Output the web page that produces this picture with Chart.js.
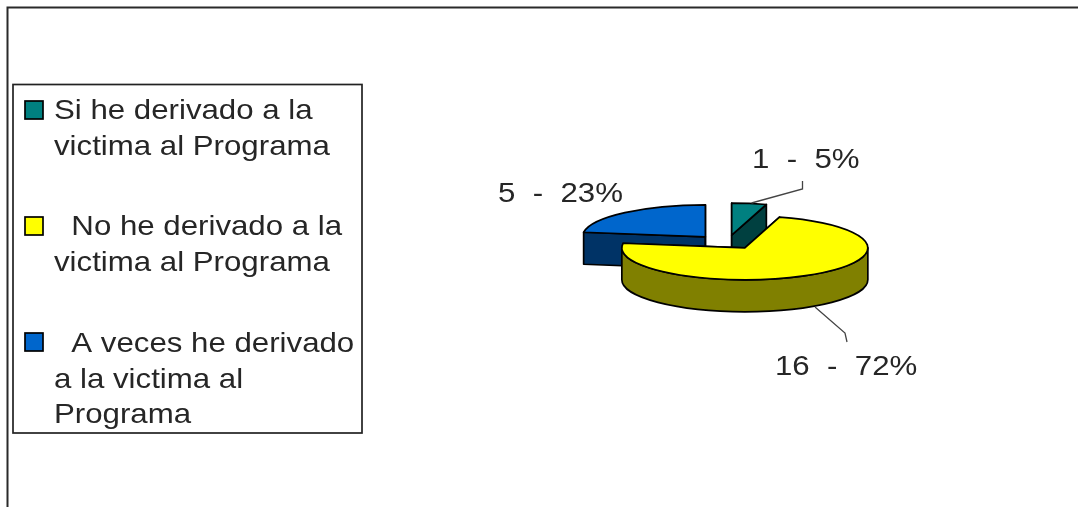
<!DOCTYPE html>
<html lang="es">
<head>
<meta charset="utf-8">
<title>Derivación al Programa</title>
<script src="https://cdn.jsdelivr.net/npm/chart.js@4"></script>
<style>
html,body{margin:0;padding:0;background:#fff;overflow:hidden}
canvas{display:block;filter:blur(0.4px)}
</style>
</head>
<body>
<canvas id="c" width="1078" height="507"></canvas>
<script>
// ---- data ----
const categories = [
  'Si he derivado a la victima al Programa',
  'No he derivado a la victima al Programa',
  'A veces he derivado a la victima al Programa'
];
const legendLines = [
  ['Si he derivado a la', 'victima al Programa'],
  ['  No he derivado a la', 'victima al Programa'],
  ['  A veces he derivado', 'a la victima al', 'Programa']
];
const counts = [1, 16, 5];
const percents = [5, 72, 23];
const topColors = ['#008080', '#FFFF00', '#0066CC'];
const sideColors = ['#004040', '#808000', '#003366'];

// ---- style / geometry ----
const FONT = '28px "Liberation Sans", Arial, sans-serif';
const TEXT = '#262626';
const STRETCH = 1.115;
const TILT = 0.26, DEPTH = 32, EXPLODE = 33, EXPLODE_Y = 26.5;
const drawOrder = [2, 0, 1];
const labelPlace = [
  {x: 752, y: 168, leader: [[751.5, 203], [802.5, 189], [802.5, 181]]},
  {x: 775, y: 375, leader: [[815, 307], [845, 333], [847, 342]]},
  {x: 498, y: 202, leader: null}
];
const legendPlace = [
  {sw: 101, base: 119},
  {sw: 217, base: 235},
  {sw: 333, base: 352}
];

function stretchedText(ctx, t, x, y) {
  ctx.save();
  ctx.translate(x, y);
  ctx.scale(STRETCH, 1);
  ctx.fillText(t, 0, 0);
  ctx.restore();
}

const pie3d = {
  id: 'pie3d',
  beforeDraw(chart) {
    const ctx = chart.ctx;
    ctx.save();
    ctx.fillStyle = '#fff';
    ctx.fillRect(0, 0, chart.width, chart.height);
    ctx.strokeStyle = '#2a2a2a';
    ctx.lineWidth = 2;
    ctx.beginPath();
    ctx.moveTo(7.5, chart.height);
    ctx.lineTo(7.5, 7.5);
    ctx.lineTo(chart.width, 7.5);
    ctx.stroke();
    ctx.restore();
  },
  beforeDatasetsDraw(chart) {
    const ctx = chart.ctx;
    const arcs = chart.getDatasetMeta(0).data;
    drawOrder.forEach(i => {
      const arc = arcs[i];
      const s = arc.startAngle, e = arc.endAngle, r = arc.outerRadius;
      const mid = (s + e) / 2;
      const x = arc.x + Math.cos(mid) * EXPLODE;
      const y = arc.y + Math.sin(mid) * EXPLODE_Y * TILT;
      const ry = r * TILT;
      const px = a => x + Math.cos(a) * r;
      const py = a => y + Math.sin(a) * ry;

      ctx.save();
      ctx.lineWidth = 1.7;
      ctx.lineJoin = 'round';
      ctx.strokeStyle = '#000';
      ctx.fillStyle = sideColors[i];

      // cut faces
      [s, e].forEach(a => {
        ctx.beginPath();
        ctx.moveTo(x, y);
        ctx.lineTo(px(a), py(a));
        ctx.lineTo(px(a), py(a) + DEPTH);
        ctx.lineTo(x, y + DEPTH);
        ctx.closePath();
        ctx.fill();
        ctx.stroke();
      });

      // front rim
      const a0 = Math.max(s, 0), a1 = Math.min(e, Math.PI);
      if (a1 > a0) {
        ctx.beginPath();
        ctx.ellipse(x, y, r, ry, 0, a0, a1, false);
        ctx.ellipse(x, y + DEPTH, r, ry, 0, a1, a0, true);
        ctx.closePath();
        ctx.fill();
        ctx.stroke();
      }

      // top face, filled by the library's own arc element
      ctx.save();
      ctx.translate(x, y);
      ctx.scale(1, TILT);
      ctx.translate(-arc.x, -arc.y);
      arc.draw(ctx);
      ctx.restore();

      ctx.beginPath();
      ctx.moveTo(x, y);
      ctx.ellipse(x, y, r, ry, 0, s, e, false);
      ctx.closePath();
      ctx.stroke();
      ctx.restore();
    });
    return false;
  },
  afterDraw(chart) {
    const ctx = chart.ctx;
    ctx.save();
    // legend box
    ctx.strokeStyle = '#222';
    ctx.lineWidth = 1.7;
    ctx.strokeRect(13, 84.5, 349, 348.5);
    ctx.font = FONT;
    ctx.textBaseline = 'alphabetic';
    legendLines.forEach((lines, i) => {
      ctx.fillStyle = topColors[i];
      ctx.fillRect(25, legendPlace[i].sw, 18, 18);
      ctx.strokeStyle = '#000';
      ctx.lineWidth = 1.7;
      ctx.strokeRect(25, legendPlace[i].sw, 18, 18);
      ctx.fillStyle = TEXT;
      lines.forEach((t, j) => stretchedText(ctx, t, 54, legendPlace[i].base + j * 35.7));
    });
    // data labels and leaders
    counts.forEach((n, i) => {
      const p = labelPlace[i];
      ctx.fillStyle = TEXT;
      stretchedText(ctx, n + '  -  ' + percents[i] + '%', p.x, p.y);
      if (p.leader) {
        ctx.strokeStyle = '#444';
        ctx.lineWidth = 1.3;
        ctx.beginPath();
        p.leader.forEach((q, k) => k ? ctx.lineTo(q[0], q[1]) : ctx.moveTo(q[0], q[1]));
        ctx.stroke();
      }
    });
    ctx.restore();
  }
};

new Chart(document.getElementById('c'), {
  type: 'pie',
  data: {
    labels: categories,
    datasets: [{data: counts, backgroundColor: topColors, borderWidth: 0}]
  },
  options: {
    responsive: false,
    animation: false,
    events: [],
    radius: 123,
    layout: {padding: {left: 376, top: 0, right: 0, bottom: 23}},
    plugins: {legend: {display: false}, tooltip: {enabled: false}, title: {display: false}}
  },
  plugins: [pie3d]
});
</script>
</body>
</html>
